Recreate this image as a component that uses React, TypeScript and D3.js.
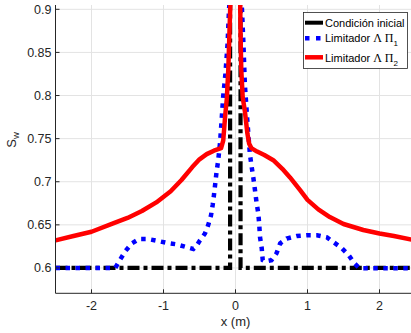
import React from "react";
import * as d3 from "d3";

const xTicks = [-2, -1, 0, 1, 2];
const yTicks = [0.6, 0.65, 0.7, 0.75, 0.8, 0.85, 0.9];
const yTickLabels = ["0.6", "0.65", "0.7", "0.75", "0.8", "0.85", "0.9"];
const xTickLabels = ["-2", "-1", "0", "1", "2"];

const initX = [-2.5, -0.075, -0.075, 0.07, 0.07, 2.5];
const initY = [0.6, 0.6, 1.0, 1.0, 0.6, 0.6];

const blueX = [-2.5, -1.67, -1.6, -1.525, -1.44, -1.34, -1.21, -1.09, -0.95, -0.82, -0.7, -0.586, -0.54, -0.493, -0.424, -0.378, -0.34, -0.317, -0.3, -0.285, -0.265, -0.24, -0.215, -0.19, -0.17, -0.14, -0.11, -0.09, 0, 0.09, 0.11, 0.13, 0.165, 0.2, 0.225, 0.247, 0.271, 0.294, 0.317, 0.33, 0.34, 0.364, 0.378, 0.41, 0.5, 0.57, 0.62, 0.71, 0.85, 1.0, 1.13, 1.27, 1.36, 1.47, 1.57, 1.65, 1.72, 2.5];
const blueY = [0.6, 0.6, 0.61, 0.62, 0.6285, 0.6335, 0.6335, 0.6315, 0.629, 0.6274, 0.6246, 0.622, 0.626, 0.632, 0.64, 0.65, 0.661, 0.673, 0.684, 0.695, 0.71, 0.725, 0.745, 0.775, 0.8, 0.825, 0.86, 0.9, 1.0, 0.9, 0.86, 0.813, 0.77, 0.732, 0.717, 0.705, 0.69, 0.675, 0.663, 0.65, 0.636, 0.623, 0.609, 0.6075, 0.609, 0.617, 0.6285, 0.634, 0.637, 0.638, 0.638, 0.6355, 0.63, 0.6234, 0.615, 0.6054, 0.5997, 0.5997];

const redX = [-2.5, -2.25, -2.0, -1.7, -1.5, -1.3, -1.1, -0.9, -0.75, -0.6, -0.5, -0.4, -0.3, -0.2, -0.17, -0.145, -0.12, -0.1, -0.085, -0.07, 0, 0.065, 0.07, 0.08, 0.1, 0.13, 0.165, 0.19, 0.22, 0.3, 0.4, 0.525, 0.65, 0.757, 0.9, 1.0, 1.15, 1.31, 1.5, 1.775, 2.0, 2.2, 2.5];
const redY = [0.632, 0.637, 0.642, 0.6516, 0.658, 0.666, 0.676, 0.689, 0.702, 0.717, 0.726, 0.732, 0.736, 0.739, 0.748, 0.775, 0.797, 0.83, 0.87, 0.91, 1.0, 0.91, 0.87, 0.83, 0.798, 0.782, 0.756, 0.744, 0.739, 0.735, 0.731, 0.725, 0.715, 0.705, 0.69, 0.679, 0.668, 0.659, 0.651, 0.644, 0.64, 0.637, 0.632];

const W = 411;
const H = 333;
const left = 55.5;
const right = 415.5;
const top = 5;
const bottom = 293.3;
const AX = "#262626";
const SANS = "'Liberation Sans', Arial, Helvetica, sans-serif";
const SERIF = "'Liberation Serif', 'Times New Roman', serif";

export default function App() {
  const x = d3.scaleLinear().domain([-2.5, 2.5]).range([left, right]);
  const y = d3.scaleLinear().domain([0.5706, 0.905]).range([bottom, top]);
  const line = d3
    .line<[number, number]>()
    .x((d) => x(d[0]))
    .y((d) => y(d[1]));
  const pts = (xs: number[], ys: number[]) => xs.map((v, i) => [v, ys[i]] as [number, number]);

  return (
    <svg
      width={W}
      height={H}
      style={{ position: "absolute", left: 0, top: 0, background: "#fff" }}
      fontFamily={SANS}
    >
      <defs>
        <clipPath id="plotclip">
          <rect x={left} y={top} width={right - left} height={bottom - top} />
        </clipPath>
      </defs>
      <rect x={0} y={0} width={W} height={H} fill="#fff" />
      {/* grid */}
      {xTicks.map((t) => (
        <line key={"gx" + t} x1={x(t)} x2={x(t)} y1={top} y2={bottom} stroke="#e3e3e3" strokeWidth={1} />
      ))}
      {yTicks.map((t) => (
        <line key={"gy" + t} x1={left} x2={right} y1={y(t)} y2={y(t)} stroke="#e3e3e3" strokeWidth={1} />
      ))}
      {/* data */}
      <g clipPath="url(#plotclip)" fill="none">
        <path
          d={line(pts(initX, initY)) || ""}
          stroke="#000"
          strokeWidth={4.2}
          strokeDasharray="12,4,4,4"
        />
        <path
          d={line(pts(blueX, blueY)) || ""}
          stroke="#0000ff"
          strokeWidth={4.5}
          strokeDasharray="4.5,5.5"
        />
        <path
          d={line(pts(redX, redY)) || ""}
          stroke="#ff0000"
          strokeWidth={4.5}
          strokeLinejoin="round"
        />
      </g>
      {/* axes */}
      <line x1={left} x2={left} y1={top} y2={bottom} stroke={AX} strokeWidth={1} />
      <line x1={left} x2={right} y1={bottom} y2={bottom} stroke={AX} strokeWidth={1} />
      {yTicks.map((t, i) => (
        <g key={"yt" + t}>
          <line x1={left} x2={left + 4} y1={y(t)} y2={y(t)} stroke={AX} />
          <text x={51.5} y={y(t)} dy="0.36em" textAnchor="end" fontSize={12.5} fill={AX}>
            {yTickLabels[i]}
          </text>
        </g>
      ))}
      {xTicks.map((t, i) => (
        <g key={"xt" + t}>
          <line x1={x(t)} x2={x(t)} y1={bottom} y2={bottom - 4} stroke={AX} />
          <text x={x(t)} y={310} textAnchor="middle" fontSize={12.5} fill={AX}>
            {xTickLabels[i]}
          </text>
        </g>
      ))}
      <text x={235.5} y={326} textAnchor="middle" fontSize={13} fill={AX}>
        x (m)
      </text>
      <text transform="translate(16,140) rotate(-90)" textAnchor="middle" fontSize={13} fill={AX}>
        S
        <tspan fontSize={9.5} dy={3}>
          w
        </tspan>
      </text>
      {/* legend */}
      <rect x={303.5} y={12.5} width={104} height={56} fill="#fff" stroke={AX} strokeWidth={0.8} />
      <line x1={305} x2={323} y1={22.7} y2={22.7} stroke="#000" strokeWidth={4} />
      <text x={325} y={26.8} fontSize={11} fill="#000">
        Condición inicial
      </text>
      <line x1={305} x2={323} y1={38.3} y2={38.3} stroke="#0000ff" strokeWidth={4.5} strokeDasharray="4.5,6.5" />
      <text x={325} y={41.7} fontSize={11} fill="#000">
        Limitador{" "}
        <tspan fontFamily={SERIF} fontSize={12}>
          Λ Π
        </tspan>
        <tspan fontSize={8} dy={4}>
          1
        </tspan>
      </text>
      <line x1={305} x2={323} y1={57.3} y2={57.3} stroke="#ff0000" strokeWidth={4.5} />
      <text x={325} y={61.7} fontSize={11} fill="#000">
        Limitador{" "}
        <tspan fontFamily={SERIF} fontSize={12}>
          Λ Π
        </tspan>
        <tspan fontSize={8} dy={4}>
          2
        </tspan>
      </text>
    </svg>
  );
}
